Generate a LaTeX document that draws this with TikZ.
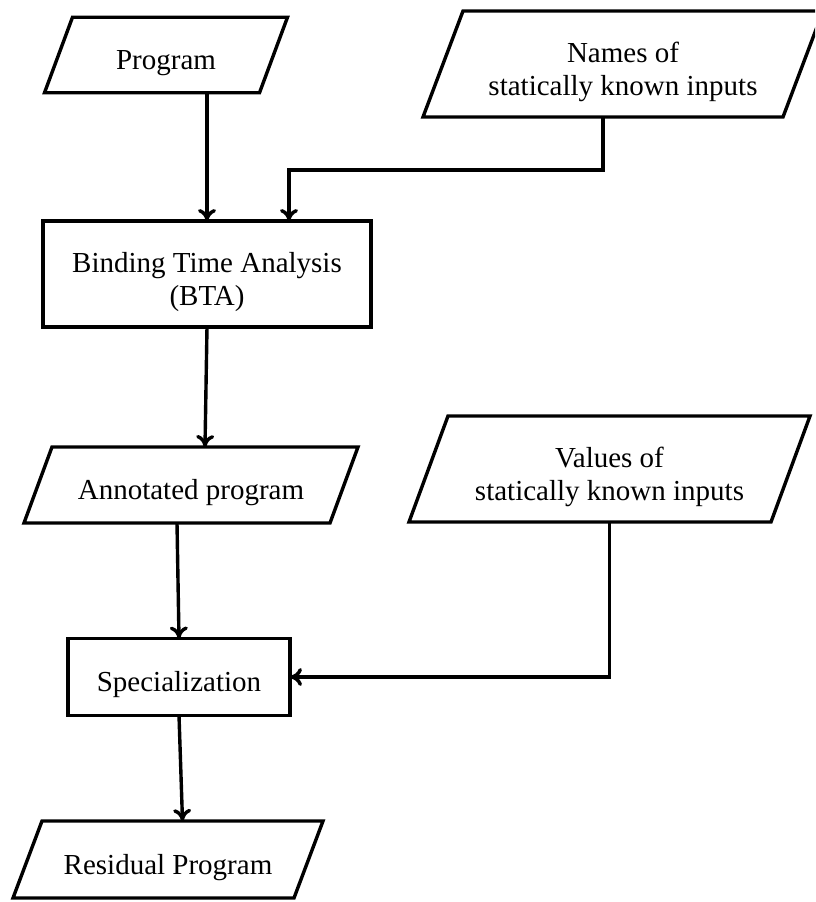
\documentclass[tikz,border=0pt]{standalone}
\usepackage{fontspec}
\setmainfont{Liberation Serif}
\usetikzlibrary{arrows.meta}
\newcommand{\mypara}[7]{%
  \node[textholder, minimum width=#4pt, minimum height=#5pt,
        label={[txt]center:{#7}}] (#1) at (#2,#3) {};
  \draw[shapeline] ([xshift=-#6pt/2]#1.south west) -- ([xshift=-#6pt/2]#1.south east)
     -- ([xshift=#6pt/2]#1.north east) -- ([xshift=#6pt/2]#1.north west) -- cycle;
  \coordinate (#1-top) at ([xshift=#6pt/2]#1.north);
  \coordinate (#1-bot) at ([xshift=-#6pt/2]#1.south);
}
\begin{document}
\begin{tikzpicture}[x=1pt,y=-1pt,
  every node/.style={font=\fontsize{29}{33}\selectfont, align=center, inner sep=0pt, outer sep=0pt},
  txt/.style={yshift=-8pt, align=center},
  textholder/.style={rectangle},
  shapeline/.style={line width=3.4pt, line join=miter},
  procbox/.style={draw, line width=3.4pt, rectangle},
  arr/.style={line width=3.4pt, -{To[length=12pt,width=18pt]}}]
\useasboundingbox (0,0) rectangle (815,902);
\clip (0,0) rectangle (815,902);
\mypara{prog}{166}{55}{215}{75.5}{28}{Program}
\mypara{names}{623}{64}{360}{106}{40}{Names of\\statically known inputs}
\node[procbox, minimum width=328pt, minimum height=106pt,
      label={[txt]center:{Binding Time Analysis\\(BTA)}}] (bta) at (207,274) {};
\mypara{ann}{191}{485}{306}{76}{28}{Annotated program}
\mypara{vals}{609.5}{469}{362}{106}{39}{Values of\\statically known inputs}
\node[procbox, minimum width=222pt, minimum height=77pt,
      label={[txt]center:Specialization}] (spec) at (179,677) {};
\mypara{res}{168}{859.5}{281}{77}{29}{Residual Program}
\coordinate (nj) at (289,170);
\draw[arr] (bta.north |- prog.south) -- (bta.north);
\draw[arr] (names-bot) |- (nj) -- (nj |- bta.north);
\draw[arr] (bta.south) -- (ann-top);
\draw[arr] (ann-bot) -- (spec.north);
\draw[arr] (vals.south) |- (spec.east);
\draw[arr] (spec.south) -- (res-top);
\end{tikzpicture}
\end{document}
